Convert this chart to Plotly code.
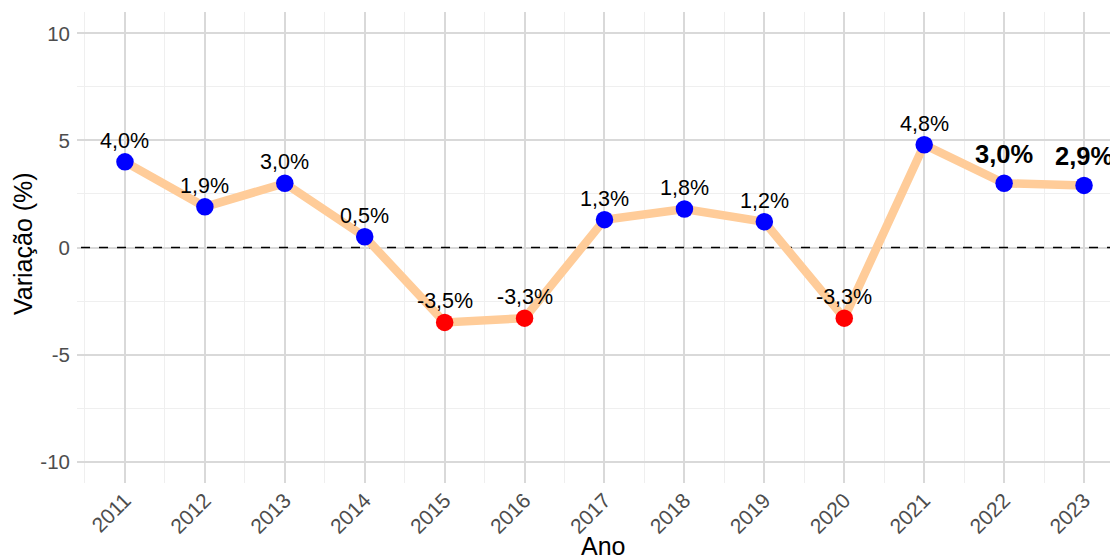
import plotly.graph_objects as go

anos = [2011, 2012, 2013, 2014, 2015, 2016, 2017, 2018, 2019, 2020, 2021, 2022, 2023]
variacao = [4.0, 1.9, 3.0, 0.5, -3.5, -3.3, 1.3, 1.8, 1.2, -3.3, 4.8, 3.0, 2.9]
destaque = [2022, 2023]
y_ticks = [-10, -5, 0, 5, 10]
linha_zero = 0

cores = ["#FF0000" if v < 0 else "#0000FF" for v in variacao]
rotulos = [f"{v:.1f}".replace(".", ",") + "%" for v in variacao]

FONT = "Liberation Sans, Arial, Helvetica, sans-serif"

# page body has an 8px margin: plot area in the screenshot spans x 77..1118, y 12..483
W, H = 1110, 551
L, T = 69, 4
R, B = 0, 76
PW, PH = W - L - R, H - T - B

fig = go.Figure()
# dashed zero reference line, drawn under the series
fig.add_trace(go.Scatter(
    x=[anos[0] - 1, anos[-1] + 1], y=[linha_zero, linha_zero], mode="lines",
    line=dict(color="black", width=1.4, dash="dash"),
    hoverinfo="skip", showlegend=False,
))
fig.add_trace(go.Scatter(
    x=anos, y=variacao, mode="lines",
    line=dict(color="#FFCC99", width=8.5),
    hoverinfo="skip", showlegend=False,
))
fig.add_trace(go.Scatter(
    x=anos, y=variacao, mode="markers",
    marker=dict(color=cores, size=17.5, line=dict(width=0)),
    showlegend=False,
))

annotations = []
for a, v, t in zip(anos, variacao, rotulos):
    bold = a in destaque
    annotations.append(dict(
        x=a, y=v, xref="x", yref="y", text=f"<b>{t}</b>" if bold else t,
        showarrow=False, yanchor="middle", yshift=29 if bold else 21,
        font=dict(family=FONT, size=25.5 if bold else 21.5, color="black"),
    ))

annotations.append(dict(
    x=(603 - 77) / PW, y=-(546 - 483) / PH, xref="paper", yref="paper",
    text="Ano", showarrow=False, yanchor="middle", xanchor="center",
    font=dict(family=FONT, size=25, color="black"),
))
annotations.append(dict(
    x=(23 - 77) / PW, y=(483 - 244) / PH, xref="paper", yref="paper",
    text="Variação (%)", showarrow=False, textangle=-90,
    yanchor="middle", xanchor="center",
    font=dict(family=FONT, size=25, color="black"),
))

fig.update_layout(
    width=W, height=H,
    margin=dict(l=L, r=R, t=T, b=B),
    plot_bgcolor="white", paper_bgcolor="white",
    annotations=annotations,
    font=dict(family=FONT),
)

fig.update_xaxes(
    range=[2010.4, 2023.425], tickmode="array", tickvals=anos,
    ticktext=[str(a) for a in anos], tickangle=-45,
    tickfont=dict(family=FONT, size=21, color="#4D4D4D"),
    showgrid=True, gridcolor="#D9D9D9", gridwidth=1.5,
    minor=dict(dtick=0.5, tick0=2010.5, showgrid=True, gridcolor="#EFEFEF", gridwidth=0.8),
    zeroline=False, showline=False, ticks="", ticklen=0, automargin=False,
)
fig.update_yaxes(
    range=[-11, 11], tickmode="array", tickvals=y_ticks,
    ticktext=[str(v) for v in y_ticks],
    tickfont=dict(family=FONT, size=20.5, color="#4D4D4D"),
    ticklabelstandoff=6,
    showgrid=True, gridcolor="#D9D9D9", gridwidth=1.5,
    minor=dict(dtick=2.5, tick0=-12.5, showgrid=True, gridcolor="#EFEFEF", gridwidth=0.8),
    zeroline=False, showline=False, ticks="", ticklen=0, automargin=False,
)

fig.write_html("out.html")
